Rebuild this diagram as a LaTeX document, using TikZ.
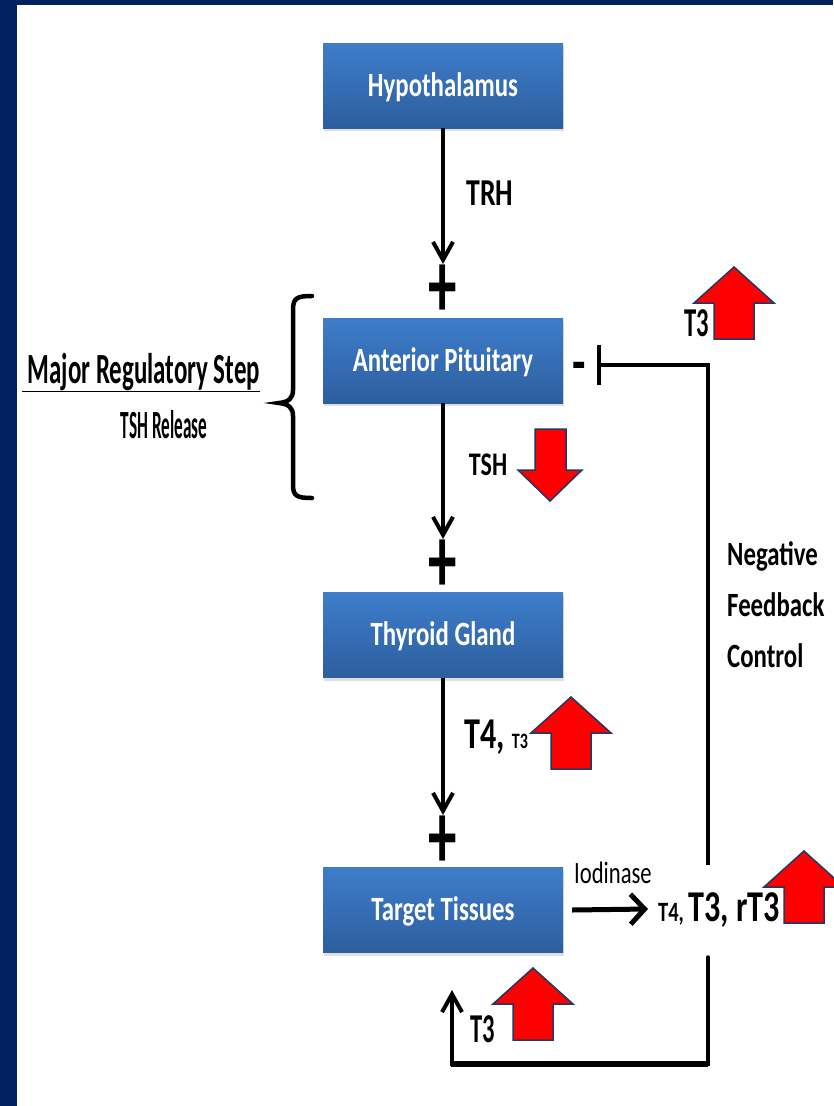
\documentclass[tikz,border=0pt]{standalone}
\usepackage{fontspec}
\setmainfont{Carlito}
\newfontfamily\cA{Carlito}[FakeStretch=0.73]
\newfontfamily\cB{Carlito}[FakeStretch=0.58]
\newfontfamily\cC{Carlito}[FakeStretch=0.6]
\newfontfamily\cE{Carlito}[FakeStretch=0.43]
\usetikzlibrary{arrows.meta,shadows}
\definecolor{navy}{HTML}{002060}
\definecolor{boxtop}{HTML}{3E7DCB}
\definecolor{boxbot}{HTML}{2D5E9E}
\definecolor{arrowedge}{HTML}{1F3864}
\newcommand\fs[1]{\fontsize{#1}{#1}\selectfont}
\begin{document}
\begin{tikzpicture}[x=1pt,y=-1pt,
  box/.style={minimum width=240pt, minimum height=85pt, inner sep=0pt,
    top color=boxtop, bottom color=boxbot, text=white,
    font=\cA\bfseries\fs{34}, text height=21.5pt, text depth=0pt,
    drop shadow={shadow xshift=1pt,shadow yshift=-3pt,opacity=0.25}},
  lbl/.style={inner sep=0pt, font=\cA\bfseries},
  plus/.style={inner sep=0pt, font=\cC\bfseries\fs{95}},
  conn/.style={line width=3.5pt, -{Straight Barb[length=18pt,width=20pt,line width=4pt]}},
  fb/.style={line width=4.5pt, -{Bar[width=40pt,line width=4pt]}},
  redarr/.style={fill=red, draw=arrowedge, line width=1.5pt, line join=miter},
  redup/.pic={\path[redarr] (0,0) -- (40,36) -- (20,36) -- (20,72) -- (-20,72) -- (-20,36) -- (-40,36) -- cycle;}
]
\useasboundingbox (0,0) rectangle (833,1106);
\fill[white] (0,0) rectangle (833,1106);
\fill[navy] (0,0) rectangle (833,5);
\fill[navy] (0,0) rectangle (17,1106);

% boxes
\node[box] (hyp) at (443,85.5) {Hypothalamus};
\node[box] (ant) at (443,360.5) {Anterior Pituitary};
\node[box] (thy) at (443,635) {Thyroid Gland};
\node[box] (tar) at (443,910) {Target Tissues};

% plus signs
\node[plus] (p1) at (443,291) {+};
\node[plus] (p2) at (443,566) {+};
\node[plus] (p3) at (443,842) {+};

% main arrows
\draw[conn] (hyp.south) -- ([yshift=27pt]p1.center);
\draw[conn] (ant.south) -- ([yshift=27pt]p2.center);
\draw[conn] (thy.south) -- ([yshift=27pt]p3.center);

% labels on arrows
\node[lbl, font=\cA\bfseries\fs{38}] (trh) at (490,193) {TRH};
\node[lbl, font=\cA\bfseries\fs{33}] (tsh) at (488,465) {TSH};
\node[lbl, anchor=base west, font=\cA\bfseries\fs{44}] (t4t3) at (464,748) {T4, \fs{22}T3};

% feedback
\coordinate (fbb) at (708,865);
\coordinate (bar) at (597,365);
\draw[fb] (fbb) |- (bar);
\node[lbl, font=\cA\bfseries\fs{60}] (minus) at (579,372) {-};
\node[lbl, anchor=base, font=\cC\bfseries\fs{41}] (t3top) at (697,336) {T3};
\node[lbl, anchor=base west, align=left, font=\cA\bfseries\fs{34}] (nfc) at (727,667)
  {Negative\\[17pt]Feedback\\[17pt]Control};

% iodinase
\coordinate (iodtip) at (648,909);
\draw[line width=5pt, -{Straight Barb[length=14pt,width=30pt,line width=5pt]}] ([xshift=9pt]tar.east) -- (iodtip);
\node[inner sep=0pt, anchor=base, font=\cA\fs{31}] (iod) at (613,883) {Iodinase};
\node[lbl, anchor=base west, font=\cA\bfseries\fs{44}] (rt) at (658,921) {\fs{28}T4, \fs{44}T3, rT3};

% bottom loop
\coordinate (lbtop) at (708,957);
\coordinate (lbc) at (452,1064);
\coordinate (lbtip) at (452,990);
\draw[conn, line cap=round] (lbtop) |- (lbc) -- (lbtip);
\draw[line width=6pt] ([xshift=-1pt]lbc) -- (708,1064);
\node[lbl, anchor=base, font=\cC\bfseries\fs{41}] (t3bot) at (483,1042) {T3};

% brace and left labels
\draw[line width=4.5pt, line cap=round]
  (312,296) .. controls (297,296) and (293,298) .. (293,310) -- (293,390)
  .. controls (293,398) and (289,402) .. (279,403)
  .. controls (289,404) and (293,408) .. (293,416) -- (293,485)
  .. controls (293,496) and (297,498) .. (312,498);
\node[lbl, anchor=base, font=\cB\bfseries\fs{43}] (mrs) at (141,383) {\underline{\ Major Regulatory Step}};
\node[lbl, anchor=base, font=\cE\bfseries\fs{40}] (tshr) at (164,438) {TSH Release};

% red arrows
\pic at (734,267) {redup};
\pic at (571,697) {redup};
\pic at (804,851) {redup};
\pic at (533,968) {redup};
\path[redarr] (550,501) -- (582,470) -- (566,470) -- (566,429) -- (535,429) -- (535,470) -- (518,470) -- cycle;
\end{tikzpicture}
\end{document}
